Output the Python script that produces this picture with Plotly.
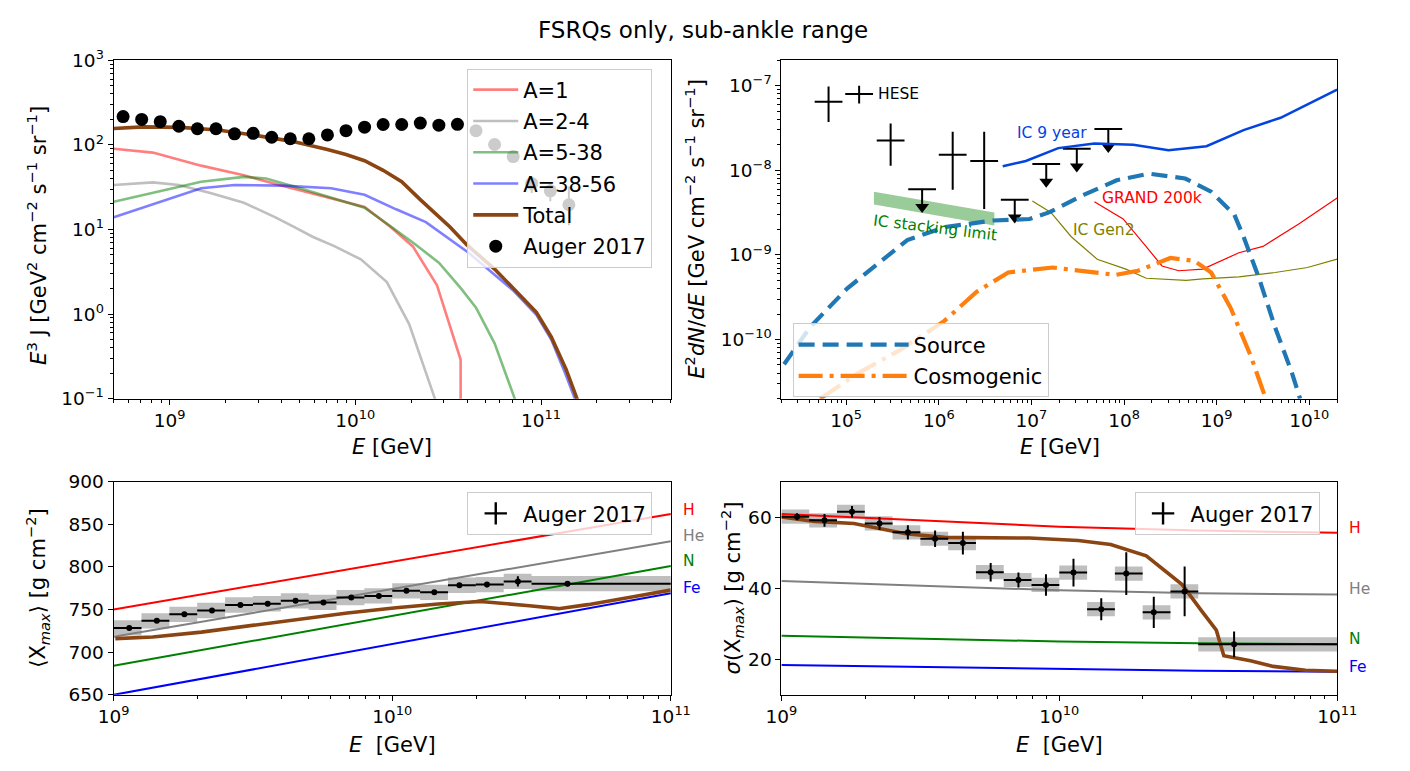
import numpy as np
import plotly.graph_objects as go

FONT = "DejaVu Sans"
OFF = 8                      # default page body margin of the html page
W, H = 1410 - 2 * OFF, 771 - 2 * OFF

# ================= Panel 1: cosmic-ray spectrum (top-left) =================
cr_logE = [8.75, 8.85, 8.95, 9.05, 9.15, 9.25, 9.35, 9.45, 9.55, 9.65, 9.75, 9.85, 9.95,
           10.05, 10.15, 10.25, 10.35, 10.45, 10.55, 10.65, 10.75, 10.85, 10.95, 11.05, 11.15]
cr_J = [216, 200, 188, 166, 155, 155, 135, 137, 123, 118, 118, 131, 147,
        162, 174, 174, 181, 171, 175, 147, 101, 72.7, 35, 28.6, 19.6]
cr_err_up = [1, 1, 1, 1, 1, 1, 1, 1, 1, 1, 1, 2, 2, 2, 3, 3, 4, 5, 6, 7, 7, 8, 7, 6.4, 12.5]
cr_err_dn = [1, 1, 1, 1, 1, 1, 1, 1, 1, 1, 1, 2, 2, 2, 3, 3, 4, 5, 6, 7, 7, 8, 8, 7.0, 8.4]

a1_logE = [8.70, 8.91, 9.17, 9.40, 9.56, 9.73, 10.05, 10.19, 10.31, 10.44, 10.567, 10.568]
a1_J = [90, 81, 56.8, 43.6, 35, 28, 18.4, 10.7, 6.3, 2.19, 0.29, 0.01]

a2_logE = [8.70, 8.91, 9.05, 9.22, 9.40, 9.57, 9.67, 9.77, 9.89, 10.03, 10.17, 10.29, 10.43]
a2_J = [33.5, 36, 33.5, 26.9, 20.7, 13.9, 10.7, 8.2, 6.3, 4.43, 2.39, 0.76, 0.098]

a3_logE = [8.70, 8.91, 9.17, 9.40, 9.52, 9.73, 9.94, 10.05, 10.19, 10.31, 10.45, 10.57, 10.65, 10.75, 10.86]
a3_J = [21.2, 26.9, 36.7, 41.8, 40, 29.4, 21.6, 18.1, 10.9, 7.0, 4.05, 2.0, 1.19, 0.45, 0.098]

a4_logE = [8.70, 8.91, 9.17, 9.35, 9.61, 9.87, 10.05, 10.22, 10.38, 10.61, 10.85, 10.975, 11.055, 11.13, 11.19]
a4_J = [13.9, 19.8, 30.7, 33.5, 33, 30.7, 25.7, 17.3, 12.2, 5.3, 1.9, 0.98, 0.5, 0.2, 0.09]

tot_logE = [8.70, 8.86, 9.06, 9.26, 9.45, 9.66, 9.85, 9.95, 10.05, 10.15, 10.25, 10.35, 10.51,
            10.60, 10.75, 10.89, 10.975, 11.055, 11.135, 11.195]
tot_J = [156, 163, 161, 150, 131, 110, 88, 77, 65, 50, 36.6, 22.5, 10.7,
         6.6, 3.4, 1.61, 1.05, 0.537, 0.222, 0.098]

# ================= Panel 2: neutrinos (top-right) =================
hese_logE = [4.81, 5.14, 5.48, 5.82, 6.15, 6.49, 6.82, 7.16, 7.49, 7.83]
hese_flux = [6.48e-8, 8.0e-8, 2.25e-8, 5.98e-9, 1.53e-8, 1.29e-8, 4.5e-9, 1.19e-8, 1.8e-8, 3.07e-8]
hese_up = [3.3e-8, 2.0e-8, 1.32e-8, 0, 1.33e-8, 1.57e-8, 0, 0, 0, 0]
hese_dn = [2.76e-8, 1.85e-8, 1.12e-8, 0, 9.4e-9, 9.4e-9, 0, 0, 0, 0]
hese_ul = [False, False, False, True, False, False, True, True, True, True]
hese_halfbin_dex = 0.15

src_logE = [4.33, 4.61, 5.01, 5.36, 5.66, 6.07, 6.59, 6.98, 7.19, 7.57, 7.92, 8.27, 8.66,
            8.94, 9.19, 9.29, 9.46, 9.63, 9.81, 9.90]
src_flux = [5.1e-11, 1.4e-10, 4.0e-10, 8.1e-10, 1.5e-9, 2.14e-9, 2.55e-9, 2.66e-9, 3.18e-9,
            5.15e-9, 7.64e-9, 9.12e-9, 8.0e-9, 5.6e-9, 3.0e-9, 1.64e-9, 5.2e-10, 1.4e-10, 4.1e-11, 2.0e-11]

cos_logE = [4.72, 5.14, 5.58, 6.06, 6.41, 6.75, 7.23, 7.63, 7.91, 8.15, 8.50, 8.76, 8.94,
            9.15, 9.37, 9.53]
cos_flux = [2.0e-11, 4.07e-11, 7.5e-11, 1.66e-10, 3.67e-10, 6.2e-10, 7.1e-10, 6.2e-10, 5.8e-10,
            6.5e-10, 9.2e-10, 8.5e-10, 6.2e-10, 2.37e-10, 6.3e-11, 2.0e-11]

ic9_logE = [6.69, 6.94, 7.29, 7.68, 8.10, 8.48, 8.89, 9.29, 9.69, 10.30]
ic9_flux = [1.12e-8, 1.29e-8, 1.83e-8, 2.07e-8, 2.01e-8, 1.73e-8, 1.93e-8, 2.99e-8, 4.18e-8, 9.0e-8]

grand_logE = [7.68, 7.99, 8.21, 8.41, 8.59, 8.85, 9.24, 9.50, 9.89, 10.30]
grand_flux = [4.25e-9, 2.66e-9, 1.37e-9, 7.4e-10, 6.5e-10, 6.8e-10, 1.06e-9, 1.26e-9, 2.33e-9, 4.7e-9]

gen2_logE = [7.01, 7.21, 7.43, 7.71, 8.02, 8.24, 8.67, 8.85, 9.24, 9.63, 9.98, 10.30]
gen2_flux = [4.33e-9, 3.18e-9, 1.64e-9, 8.9e-10, 6.8e-10, 5.3e-10, 5.0e-10, 5.2e-10, 5.5e-10,
             6.2e-10, 7.1e-10, 8.9e-10]

stack_logE = [5.30, 6.60]
stack_upper = [5.6e-9, 3.17e-9]
stack_lower = [3.95e-9, 2.23e-9]

# ================= Panels 3 & 4: Xmax moments =================
xm_logE = [9.056, 9.155, 9.254, 9.353, 9.455, 9.553, 9.653, 9.753, 9.853, 9.952,
           10.051, 10.151, 10.241, 10.340, 10.451, 10.629]
bin_lo = [9.0, 9.1, 9.2, 9.3, 9.4, 9.5, 9.6, 9.7, 9.8, 9.9, 10.0, 10.1, 10.2, 10.3, 10.4, 10.5]
bin_hi = [9.1, 9.2, 9.3, 9.4, 9.5, 9.6, 9.7, 9.8, 9.9, 10.0, 10.1, 10.2, 10.3, 10.4, 10.5, 11.0]
xmax_mean = [728.4, 736.7, 744.3, 748.9, 755.3, 756.8, 760.2, 758.3, 764.0, 765.9,
             771.9, 770.1, 778.4, 779.2, 782.9, 780.3]
xmax_stat = [1.5, 1.5, 1.5, 1.5, 1.5, 1.5, 1.5, 1.5, 2, 2, 2, 2, 2.5, 3, 6, 3]
xmax_sys = [9] * 16
xsig = [60.1, 59.1, 61.5, 58.2, 55.7, 53.9, 52.7, 44.5, 42.3, 40.9, 44.4, 34.1, 44.1, 33.2, 39.1, 24.2]
xsig_stat = [1.0, 1.8, 1.6, 1.8, 2.0, 2.3, 3.2, 2.6, 2.1, 3.0, 3.9, 3.1, 6.0, 4.4, 7.0, 3.6]
xsig_sys = [2.0] * 16

mod_logE = [9.0, 11.0]
mean_H = [750, 862]
mean_He = [718, 830]
mean_N = [684, 801]
mean_Fe = [650, 769]
mean_tot_logE = [9.006, 9.140, 9.315, 9.490, 9.664, 9.839, 10.014, 10.165, 10.317, 10.434,
                 10.492, 10.597, 10.702, 10.865, 10.999]
mean_tot = [715.9, 717.8, 723.5, 731.0, 738.6, 746.0, 752.0, 756.5, 759.4, 756.5,
            754.5, 751.0, 755.7, 765.0, 772.7]

sig_mod_logE = [9.0, 9.5, 10.0, 10.5, 11.0]
sig_H = [60.9, 59.0, 57.3, 56.2, 55.6]
sig_He = [42.0, 40.6, 39.4, 38.6, 38.2]
sig_N = [26.6, 25.7, 25.0, 24.5, 24.2]
sig_Fe = [18.4, 17.8, 17.2, 16.8, 16.5]
sig_tot_logE = [9.0, 9.120, 9.261, 9.354, 9.448, 9.588, 9.764, 9.892, 10.068, 10.185, 10.313,
                10.442, 10.512, 10.565, 10.592, 10.688, 10.770, 10.886, 11.0]
sig_tot = [60.0, 58.8, 58.2, 56.8, 55.3, 54.3, 54.3, 54.1, 53.4, 52.3, 49.1,
           41.0, 33.6, 28.2, 21.0, 19.6, 18.0, 16.9, 16.65]

comp_names = ["H", "He", "N", "Fe"]
comp_colors = ["#ff0000", "#808080", "#008000", "#0000ff"]
mean_label_y = [867, 836, 807, 775]
sig_label_y = [57.0, 39.8, 25.6, 17.7]

# ---------------- helpers ----------------
def E(lg):
    return 10 ** np.asarray(lg, dtype=float)

def px_x(p):
    return (p - OFF) / W

def px_y(p):
    return 1 - (p - OFF) / H

fig = go.Figure()

# ---------- Panel 1 ----------
comp = [("A=1", a1_logE, a1_J, "rgba(255,0,0,0.5)", 2.6),
        ("A=2-4", a2_logE, a2_J, "rgba(128,128,128,0.5)", 2.6),
        ("A=5-38", a3_logE, a3_J, "rgba(0,128,0,0.5)", 2.6),
        ("A=38-56", a4_logE, a4_J, "rgba(0,0,255,0.5)", 2.6),
        ("Total", tot_logE, tot_J, "#8b4513", 3.6)]
for i, (nm, lx, ly, col, lw) in enumerate(comp):
    fig.add_trace(go.Scatter(x=E(lx), y=ly, mode="lines", name=nm, line=dict(color=col, width=lw),
                             xaxis="x", yaxis="y", legend="legend", legendgroup="g1_%d" % i))
fig.add_trace(go.Scatter(x=E(cr_logE), y=cr_J, mode="markers", name="Auger 2017",
                         marker=dict(color="black", size=13),
                         error_y=dict(type="data", array=cr_err_up, arrayminus=cr_err_dn,
                                      color="black", thickness=2, width=0),
                         xaxis="x", yaxis="y", legend="legend", legendgroup="g1_9"))

# ---------- Panel 2 ----------
sx = E(stack_logE)
fig.add_trace(go.Scatter(x=list(sx) + list(sx[::-1]) + [sx[0]],
                         y=stack_upper + stack_lower[::-1] + [stack_upper[0]],
                         mode="lines", fill="toself", fillcolor="rgba(0,128,0,0.4)",
                         line=dict(width=0), showlegend=False, xaxis="x2", yaxis="y2"))

hx = E(hese_logE)
hex_plus = hx * (10 ** hese_halfbin_dex - 1)
hex_minus = hx * (1 - 10 ** (-hese_halfbin_dex))
ARROW_DEX = 0.21
hf = np.array(hese_flux)
tips = hf * 10 ** (-ARROW_DEX)
err_plus = np.array(hese_up)
err_minus = np.where(hese_ul, hf - tips, np.array(hese_dn))
fig.add_trace(go.Scatter(x=hx, y=hf, mode="markers", marker=dict(size=1, color="black"),
                         error_x=dict(type="data", array=hex_plus, arrayminus=hex_minus,
                                      color="black", thickness=2, width=0),
                         error_y=dict(type="data", array=err_plus, arrayminus=err_minus,
                                      color="black", thickness=2, width=0),
                         showlegend=False, xaxis="x2", yaxis="y2"))
ul_mask = np.array(hese_ul)
fig.add_trace(go.Scatter(x=hx[ul_mask], y=tips[ul_mask], mode="markers",
                         marker=dict(symbol="triangle-down", size=12, color="black"),
                         showlegend=False, xaxis="x2", yaxis="y2"))

fig.add_trace(go.Scatter(x=E(ic9_logE), y=ic9_flux, mode="lines", line=dict(color="#0343df", width=2.5),
                         showlegend=False, xaxis="x2", yaxis="y2"))
fig.add_trace(go.Scatter(x=E(grand_logE), y=grand_flux, mode="lines", line=dict(color="#ff0000", width=1.2),
                         showlegend=False, xaxis="x2", yaxis="y2"))
fig.add_trace(go.Scatter(x=E(gen2_logE), y=gen2_flux, mode="lines", line=dict(color="#808000", width=1.2),
                         showlegend=False, xaxis="x2", yaxis="y2"))
fig.add_trace(go.Scatter(x=E(src_logE), y=src_flux, mode="lines", name="Source",
                         line=dict(color="#1f77b4", width=4.2, dash="16px,8px"),
                         xaxis="x2", yaxis="y2", legend="legend2", legendgroup="g2_0"))
fig.add_trace(go.Scatter(x=E(cos_logE), y=cos_flux, mode="lines", name="Cosmogenic",
                         line=dict(color="#ff7f0e", width=4.2, dash="24px,7px,4px,7px"),
                         xaxis="x2", yaxis="y2", legend="legend2", legendgroup="g2_1"))

# ---------- Panels 3 & 4 ----------
def boxes(vals, sys):
    bx, by = [], []
    for lo, hi, v, s in zip(bin_lo, bin_hi, vals, sys):
        bx += [10 ** lo, 10 ** hi, 10 ** hi, 10 ** lo, 10 ** lo, None]
        by += [v - s, v - s, v + s, v + s, v - s, None]
    return bx, by

xe = E(xm_logE)
xerr_minus = xe - E(bin_lo)
xerr_plus = E(bin_hi) - xe

for (xa, ya, vals, stat, sys, leg, models, mlogE, tlogE, tvals) in [
        ("x3", "y3", xmax_mean, xmax_stat, xmax_sys, "legend3",
         [mean_H, mean_He, mean_N, mean_Fe], mod_logE, mean_tot_logE, mean_tot),
        ("x4", "y4", xsig, xsig_stat, xsig_sys, "legend4",
         [sig_H, sig_He, sig_N, sig_Fe], sig_mod_logE, sig_tot_logE, sig_tot)]:
    bx, by = boxes(vals, sys)
    fig.add_trace(go.Scatter(x=bx, y=by, mode="lines", fill="toself", fillcolor="rgba(128,128,128,0.5)",
                             line=dict(width=0), showlegend=False, xaxis=xa, yaxis=ya))
    for mv, col in zip(models, comp_colors):
        fig.add_trace(go.Scatter(x=E(mlogE), y=mv, mode="lines", line=dict(color=col, width=2),
                                 showlegend=False, xaxis=xa, yaxis=ya))
    fig.add_trace(go.Scatter(x=E(tlogE), y=tvals, mode="lines", line=dict(color="#8b4513", width=3.6),
                             showlegend=False, xaxis=xa, yaxis=ya))
    fig.add_trace(go.Scatter(x=xe, y=vals, mode="markers", marker=dict(color="black", size=6),
                             error_x=dict(type="data", array=xerr_plus, arrayminus=xerr_minus,
                                          color="black", thickness=2, width=0),
                             error_y=dict(type="data", array=stat, color="black", thickness=2, width=0),
                             showlegend=False, xaxis=xa, yaxis=ya))
    fig.add_trace(go.Scatter(x=[None], y=[None], mode="markers", name="Auger 2017",
                             marker=dict(symbol="cross-thin", size=24, line=dict(color="black", width=2.4)),
                             xaxis=xa, yaxis=ya, legend=leg))

# ---------------- axes ----------------
def sup_label(p):
    return "10<sup>" + ("\u2212" if p < 0 else "") + str(abs(p)) + "</sup>"

def minor_vals(e0, e1):
    return [m * 10.0 ** e for e in range(e0, e1 + 1) for m in range(2, 10)]

tickfont = dict(family=FONT, size=18.5, color="black")

def log_axis(domain, rng, exps, anchor):
    return dict(type="log", domain=domain, range=rng, anchor=anchor,
                tickmode="array", tickvals=[10.0 ** p for p in exps], ticktext=[sup_label(p) for p in exps],
                ticks="outside", ticklen=5, tickwidth=1.1, tickcolor="black",
                showline=True, linecolor="black", linewidth=1.1, mirror=True,
                showgrid=False, zeroline=False, tickfont=tickfont)

def minor_axis(rng, mvals, overlay, anchor):
    return dict(type="log", range=rng, overlaying=overlay, anchor=anchor,
                tickmode="array", tickvals=mvals, showticklabels=False,
                ticks="outside", ticklen=3, tickwidth=0.9, tickcolor="black",
                showline=False, showgrid=False, zeroline=False)

def lin_axis(domain, rng, dtick, anchor):
    return dict(type="linear", domain=domain, range=rng, anchor=anchor, dtick=dtick, tick0=0,
                ticks="outside", ticklen=5, tickwidth=1.1, tickcolor="black",
                showline=True, linecolor="black", linewidth=1.1, mirror=True,
                showgrid=False, zeroline=False, tickfont=tickfont)

dx_left = [px_x(100), px_x(672)]
dx_right = [px_x(785.5), px_x(1356)]
dy_top = [px_y(397.5), px_y(48.5)]
dy_bot = [px_y(703), px_y(483)]

r1x = [np.log10(5e8), np.log10(5e11)]
r1y = [-1, 3]
r2x = [np.log10(2e4), np.log10(2e10)]
r2y = [np.log10(2e-11), np.log10(2e-7)]
r3x = [9, 11]

fig.update_layout(
    xaxis=log_axis(dx_left, r1x, [9, 10, 11], "y"),
    yaxis=log_axis(dy_top, r1y, [-1, 0, 1, 2, 3], "x"),
    xaxis2=log_axis(dx_right, r2x, [5, 6, 7, 8, 9, 10], "y2"),
    yaxis2=log_axis(dy_top, r2y, [-10, -9, -8, -7], "x2"),
    xaxis3=log_axis(dx_left, r3x, [9, 10, 11], "y3"),
    yaxis3=lin_axis(dy_bot, [650, 900], 50, "x3"),
    xaxis4=log_axis(dx_right, r3x, [9, 10, 11], "y4"),
    yaxis4=lin_axis(dy_bot, [10, 70], 20, "x4"),
    xaxis5=minor_axis(r1x, minor_vals(8, 11), "x", "y"),
    yaxis5=minor_axis(r1y, minor_vals(-1, 2), "y", "x"),
    xaxis6=minor_axis(r2x, minor_vals(4, 10), "x2", "y2"),
    yaxis6=minor_axis(r2y, minor_vals(-11, -7), "y2", "x2"),
    xaxis7=minor_axis(r3x, minor_vals(9, 10), "x3", "y3"),
    xaxis8=minor_axis(r3x, minor_vals(9, 10), "x4", "y4"),
)
for xa, ya in [("x5", "y"), ("x", "y5"), ("x6", "y2"), ("x2", "y6"), ("x7", "y3"), ("x8", "y4")]:
    fig.add_trace(go.Scatter(x=[None], y=[None], mode="lines", showlegend=False, hoverinfo="skip",
                             xaxis=xa, yaxis=ya))

legfont = dict(family=FONT, size=21, color="black")
legcommon = dict(bgcolor="rgba(255,255,255,0.8)", bordercolor="#cccccc", borderwidth=1,
                 font=legfont, xanchor="left", yanchor="top")
fig.update_layout(
    legend=dict(x=px_x(463), y=px_y(57), tracegroupgap=1, itemwidth=45, **legcommon),
    legend2=dict(x=px_x(797), y=px_y(320), tracegroupgap=1, itemwidth=110, **legcommon),
    legend3=dict(x=px_x(463), y=px_y(494), itemwidth=45, **legcommon),
    legend4=dict(x=px_x(1148), y=px_y(494), itemwidth=45, **legcommon),
)

# ---------------- text ----------------
ann = []

def pann(text, x, y, size=21, angle=0, color="black"):
    return dict(text=text, x=px_x(x), y=px_y(y), xref="paper", yref="paper", xanchor="center",
                yanchor="middle", textangle=angle, showarrow=False,
                font=dict(family=FONT, size=size, color=color))

ann.append(pann("FSRQs only, sub-ankle range", 705, 17, size=23))
ann.append(pann("<i>E</i><sup>3</sup> J [GeV<sup>2</sup> cm<sup>\u22122</sup> s<sup>\u22121</sup> sr<sup>\u22121</sup>]",
                22, 229, angle=-90))
ann.append(pann("<i>E</i><sup>2</sup><i>dN</i>/<i>dE</i> [GeV cm<sup>\u22122</sup> s<sup>\u22121</sup> sr<sup>\u22121</sup>]",
                697, 222, angle=-90))
ann.append(pann("\u27e8X<sub><i>max</i></sub>\u27e9 [g cm<sup>\u22122</sup>]", 22, 593, angle=-90))
ann.append(pann("<i>\u03c3</i>(X<sub><i>max</i></sub>) [g cm<sup>\u22122</sup>]", 735, 593, angle=-90))
for cx, cy, t in [(386, 447, "<i>E</i> [GeV]"), (1071, 447, "<i>E</i> [GeV]"),
                  (386, 755, "<i>E</i>  [GeV]"), (1071, 755, "<i>E</i>  [GeV]")]:
    ann.append(pann(t, cx, cy))

small = dict(family=FONT, size=15.5)
ann.append(dict(text="HESE", x=5.32, y=np.log10(8.0e-8), xref="x2", yref="y2",
                xanchor="left", yanchor="middle", showarrow=False, font=dict(small, color="black")))
ann.append(dict(text="IC 9 year", x=6.82, y=np.log10(2.76e-8), xref="x2", yref="y2",
                xanchor="left", yanchor="middle", showarrow=False, font=dict(small, color="#0343df")))
ann.append(dict(text="GRAND 200k", x=7.745, y=np.log10(4.7e-9), xref="x2", yref="y2",
                xanchor="left", yanchor="middle", showarrow=False, font=dict(small, color="#ff0000")))
ann.append(dict(text="IC Gen2", x=7.43, y=np.log10(1.97e-9), xref="x2", yref="y2",
                xanchor="left", yanchor="middle", showarrow=False, font=dict(small, color="#808000")))
ann.append(dict(text="IC stacking limit", x=5.96, y=np.log10(2.1e-9), xref="x2", yref="y2",
                xanchor="center", yanchor="middle", textangle=7, showarrow=False,
                font=dict(small, color="#008000")))

for nm, col, yl in zip(comp_names, comp_colors, mean_label_y):
    ann.append(dict(text=nm, x=px_x(682), y=yl, xref="paper", yref="y3", xanchor="left", yanchor="middle",
                    showarrow=False, font=dict(family=FONT, size=15.5, color=col)))
for nm, col, yl in zip(comp_names, comp_colors, sig_label_y):
    ann.append(dict(text=nm, x=px_x(1366), y=yl, xref="paper", yref="y4", xanchor="left", yanchor="middle",
                    showarrow=False, font=dict(family=FONT, size=15.5, color=col)))

fig.update_layout(annotations=ann, width=W, height=H, autosize=False,
                  margin=dict(l=0, r=0, t=0, b=0), plot_bgcolor="white", paper_bgcolor="white",
                  font=dict(family=FONT, color="black"))

fig.write_html("out.html", config={"displayModeBar": False})
